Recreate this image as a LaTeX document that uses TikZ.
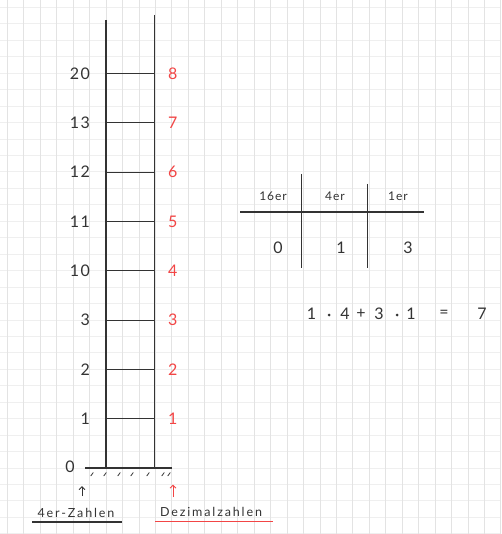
\documentclass[tikz,border=0pt]{standalone}
\usepackage{fontspec}
\setmainfont{Lato}
\newfontfamily\handfont[LetterSpace=8]{Lato}
\newfontfamily\widefont[LetterSpace=15]{Lato}
\usetikzlibrary{arrows.meta}
\definecolor{ink}{HTML}{333333}
\definecolor{redink}{HTML}{F24545}
\definecolor{gridv}{HTML}{E3E3E3}
\definecolor{gridh}{HTML}{EFEFEF}
\tikzset{
  gv/.style={draw=gridv, line width=0.7pt},
  gh/.style={draw=gridh, line width=0.7pt},
  rail/.style={draw=ink, line width=1.2pt},
  rung/.style={draw=ink, line width=0.9pt},
  lab/.style={text=ink, inner sep=0pt, font=\handfont\fontsize{16}{18}\selectfont},
  rlab/.style={text=redink, inner sep=0pt, font=\handfont\fontsize{16}{18}\selectfont},
  hdr/.style={text=ink, inner sep=0pt, font=\handfont\fontsize{12}{14}\selectfont},
  word/.style={text=ink, inner sep=0pt, font=\widefont\fontsize{12.5}{15}\selectfont},
  tick/.style={draw=ink, line width=0.8pt},
  tline/.style={draw=ink, line width=1.2pt},
  dotm/.style={fill=ink, circle, inner sep=0pt, minimum size=3pt},
}
\begin{document}
\begin{tikzpicture}[x=1pt,y=-1pt]
\useasboundingbox (0,0) rectangle (501,534);
\fill[white] (0,0) rectangle (501,534);
% grid
\foreach \i in {0,...,32} {\draw[gh] (0,{7.3+\i*16.45}) -- (501,{7.3+\i*16.45});}
\foreach \i in {0,...,30} {\draw[gv] ({7.3+\i*16.45},0) -- ({7.3+\i*16.45},534);}
% ladder
\coordinate (lt) at (106,20);
\coordinate (lb) at (106,468);
\coordinate (rt) at (154.7,15);
\coordinate (rb) at (154.7,468);
\draw[rail] (lt) -- (lb);
\draw[rail] (rt) -- (rb);
\foreach \k in {0,...,7} {
  \coordinate (ra\k) at (106,{73.3+\k*49.35});
  \coordinate (rz\k) at (154.7,{73.3+\k*49.35});
  \draw[rung] (ra\k) -- (rz\k);
}
% ground
\coordinate (g1) at (85,468);
\coordinate (g2) at (172,468);
\draw[rail] (g1) -- (g2);
\foreach \x in {92,105,119,132,148,163,169} {\draw[tick] (\x-1.3,476) -- (\x+1.3,472.5);}
% left labels
\foreach \l [count=\k from 0] in {20,13,12,11,10,3,2,1} {
  \node[lab, anchor=east] (l\k) at (90,{73.3+\k*49.35}) {\l};
}
\node[lab] (l8) at (70,467) {0};
% right labels
\foreach \l [count=\k from 0] in {8,7,6,5,4,3,2,1} {
  \node[rlab, anchor=west] (r\k) at (168,{73.3+\k*49.35}) {\l};
}
% arrows
\coordinate (ab1) at (82,496);
\coordinate (ab2) at (82,486);
\draw[ink, line width=0.9pt, -{Straight Barb[length=3pt,width=6pt]}] (ab1) -- (ab2);
\coordinate (ar1) at (173,497);
\coordinate (ar2) at (173,484.5);
\draw[redink, line width=0.9pt, -{Straight Barb[length=3pt,width=6pt]}] (ar1) -- (ar2);
% words
\node[word] (w1) at (76,513) {4er-Zahlen};
\coordinate (u1a) at (32,522);
\coordinate (u1b) at (122,522);
\draw[ink, line width=1.3pt] (u1a) -- (u1b);
\node[word] (w2) at (211,512) {Dezimalzahlen};
\coordinate (u2a) at (155,521.5);
\coordinate (u2b) at (273,521.5);
\draw[redink, line width=1.3pt] (u2a) -- (u2b);
% table
\coordinate (v1a) at (301.7,174);
\coordinate (v1b) at (301.7,268);
\coordinate (v2a) at (367.7,184);
\coordinate (v2b) at (367.7,268);
\coordinate (ha) at (240,212);
\coordinate (hb) at (424,212);
\draw[tline] (v1a) -- (v1b);
\draw[tline] (v2a) -- (v2b);
\draw[tline] (ha) -- (hb);
\node[hdr] (h16) at (273,196) {16er};
\node[hdr] (h4) at (335,196) {4er};
\node[hdr] (h1) at (398,196) {1er};
\node[lab] (d16) at (278,248) {0};
\node[lab] (d4) at (341,248) {1};
\node[lab] (d1) at (408,248) {3};
% equation
\node[lab] (e1) at (311.5,314) {1};
\node[dotm] (e2) at (329,315) {};
\node[lab] (e3) at (345,314) {4};
\node[lab] (e4) at (361,314) {+};
\node[lab] (e5) at (379,314) {3};
\node[dotm] (e6) at (397,315) {};
\node[lab] (e7) at (411,314) {1};
\node[lab] (e8) at (444,314) {=};
\node[lab] (e9) at (482,314) {7};
\end{tikzpicture}
\end{document}
